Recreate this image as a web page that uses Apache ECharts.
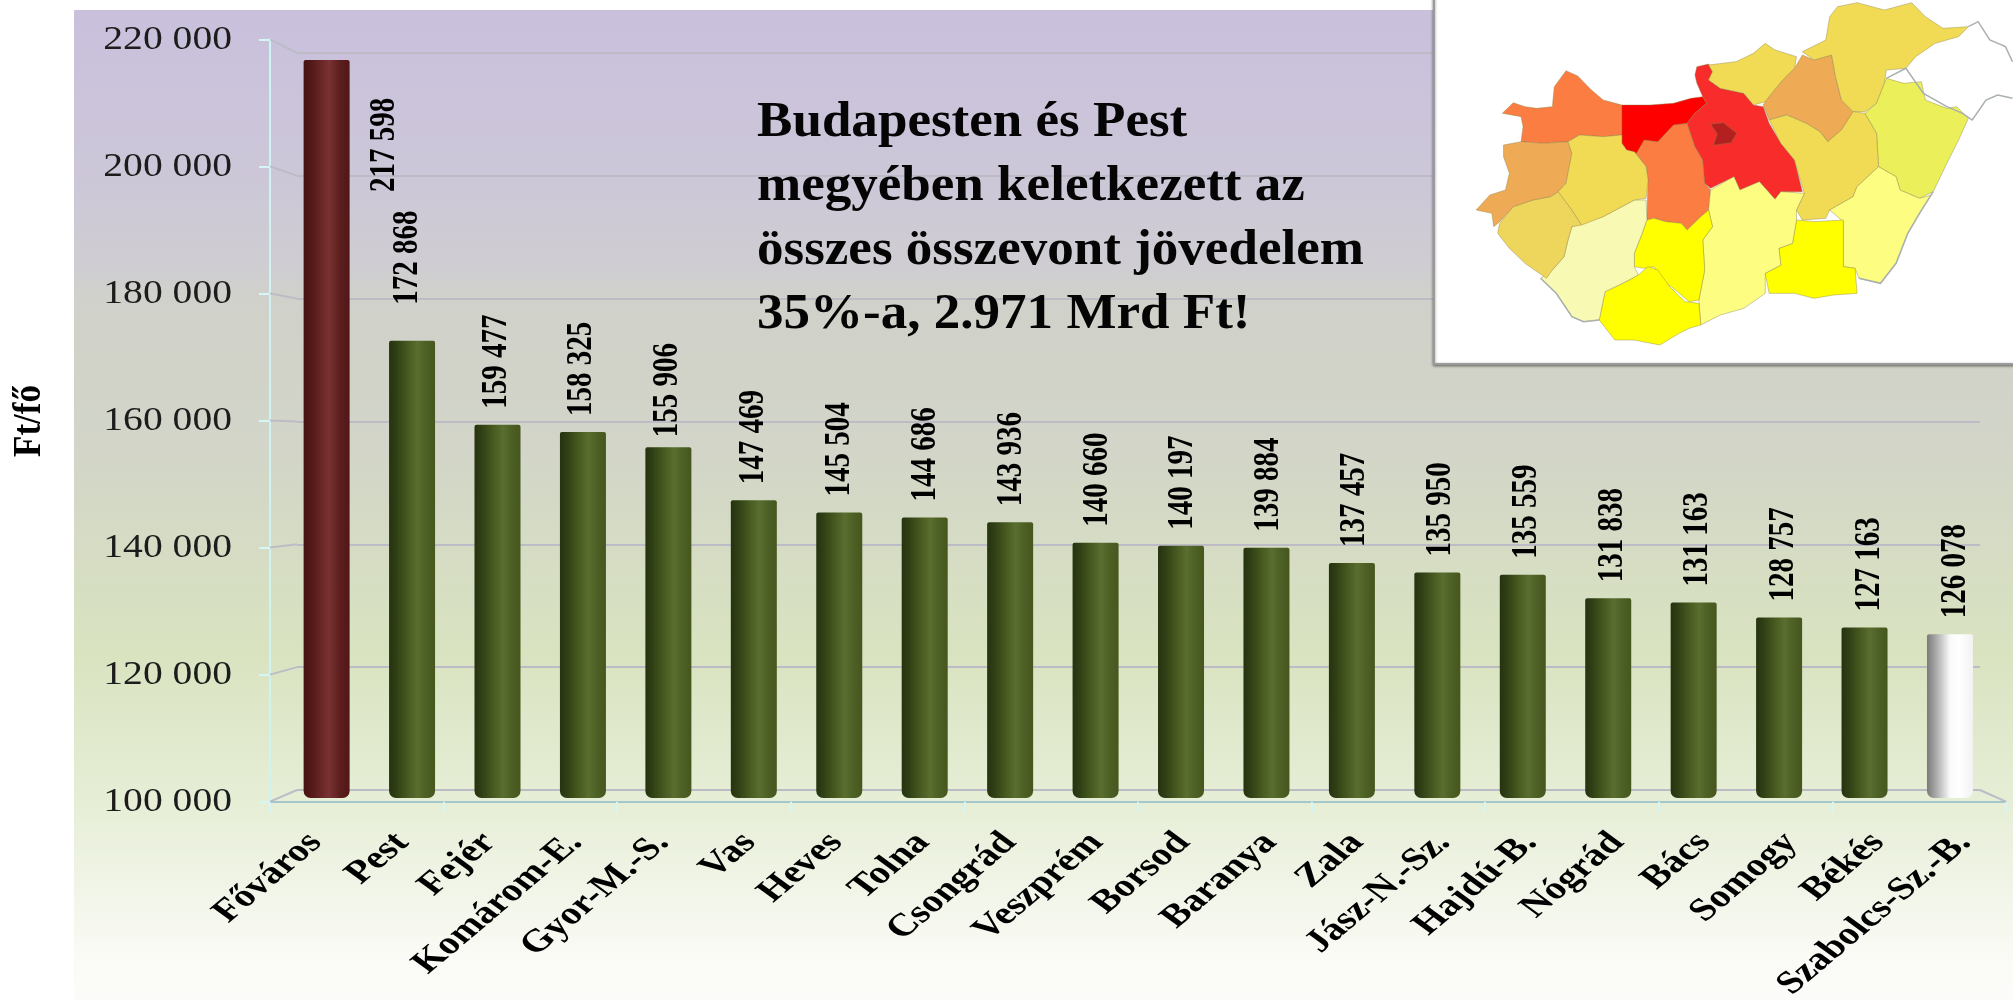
<!DOCTYPE html>
<html><head><meta charset="utf-8">
<style>html,body{margin:0;padding:0;background:#fff}#c{width:2013px;height:1000px}</style>
<script src="https://cdn.jsdelivr.net/npm/echarts@6/dist/echarts.min.js"></script>
</head><body><div id="c"></div>
<script>
const categories = ['Főváros','Pest','Fejér','Komárom-E.','Gyor-M.-S.','Vas','Heves','Tolna','Csongrád','Veszprém','Borsod','Baranya','Zala','Jász-N.-Sz.','Hajdú-B.','Nógrád','Bács','Somogy','Békés','Szabolcs-Sz.-B.'];
const values = [217598,172868,159477,158325,155906,147469,145504,144686,143936,140660,140197,139884,137457,135950,135559,131838,131163,128757,127163,126078];
const yTicks = [100000,120000,140000,160000,180000,200000,220000];
const noteLines = ['Budapesten és Pest','megyében keletkezett az','összes összevont jövedelem','35%-a, 2.971 Mrd Ft!'];
const axisTitle = 'Ft/fő';

// hand-placed value labels in the source: {index: [dx, gap above the bar]}
const labelNudges = {0:[58,-132],1:[-4,36],4:[-1,10]};

// inset map outlines, traced in 2.56x / 3x crop units
const mapBorder = [
 [[1455,80],[1480,65],[1510,120],[1550,140],[1568,185]],
 [[1245,235],[1295,205],[1340,280],[1400,320],[1440,340],[1465,360],[1500,300],[1530,285],[1568,295]],
 [[1365,575],[1330,640],[1300,700],[1270,790],[1230,850],[1175,835]],
 [[360,835],[400,880],[440,950],[470,965],[510,960]]
];
const mapRegions = [
 ['#fb7d42',[[262,340],[290,308],[320,320],[350,325],[390,320],[395,260],[425,212],[455,228],[490,270],[520,300],[568,315],[568,405],[520,410],[460,405],[430,425],[370,430],[310,425],[315,380],[310,350]]],
 ['#fb7d42',[[700,375],[735,370],[755,440],[775,480],[780,550],[795,570],[790,630],[770,650],[735,690],[720,670],[680,665],[650,655],[632,660],[635,540],[630,500],[600,455],[625,420],[660,425]]],
 ['#fe0000',[[568,315],[640,315],[700,310],[745,295],[775,290],[785,310],[755,340],[735,370],[700,375],[660,425],[625,420],[605,460],[580,450],[568,430]]],
 ['#f72c2b',[[760,200],[790,192],[800,215],[790,240],[820,265],[880,280],[905,315],[930,320],[945,370],[975,430],[1010,480],[1030,575],[975,575],[960,598],[920,545],[870,570],[855,530],[795,565],[780,550],[775,480],[755,440],[735,370],[755,340],[785,310],[775,290],[760,250],[755,225]]],
 ['#b32020',[[795,372],[828,368],[862,400],[848,428],[802,436],[812,402]]],
 ['#f1db55',[[790,195],[860,185],[905,160],[935,130],[960,150],[1015,170],[1010,205],[980,240],[935,305],[905,315],[880,280],[820,265],[790,240],[800,215]]],
 ['#eeaa55',[[1030,165],[1060,180],[1105,165],[1115,230],[1130,300],[1160,335],[1130,390],[1095,425],[1075,395],[1040,370],[990,345],[945,360],[930,315],[935,305],[980,240],[1010,205]]],
 ['#f1db55',[[1030,155],[1090,120],[1100,50],[1120,20],[1170,8],[1240,30],[1310,8],[1345,50],[1390,85],[1455,80],[1430,110],[1370,130],[1320,170],[1295,205],[1245,210],[1240,250],[1220,310],[1190,335],[1160,335],[1130,300],[1115,230],[1105,165],[1060,180]]],
 ['#ebef5a',[[1245,235],[1290,250],[1335,245],[1345,300],[1400,325],[1425,320],[1455,355],[1430,420],[1400,490],[1365,575],[1330,595],[1280,570],[1270,530],[1225,500],[1220,400],[1190,340],[1220,310]]],
 ['#f1db55',[[945,360],[990,345],[1040,370],[1075,395],[1095,425],[1130,390],[1160,335],[1190,340],[1220,400],[1225,500],[1170,560],[1160,590],[1100,630],[1090,655],[1030,660],[1015,630],[1035,580],[1010,480],[975,430]]],
 ['#fdfd82',[[1225,500],[1270,530],[1280,570],[1330,595],[1360,585],[1330,640],[1300,700],[1270,790],[1230,850],[1175,835],[1165,805],[1135,800],[1135,665],[1100,630],[1160,590],[1170,560]]],
 ['#ffff00',[[1015,660],[1060,665],[1135,660],[1135,800],[1165,805],[1170,880],[1110,885],[1060,895],[1010,880],[945,880],[935,820],[975,795],[970,745],[1005,730]]],
 ['#fdfd82',[[795,570],[855,530],[870,570],[920,545],[960,598],[975,575],[1035,580],[1015,630],[1015,660],[1005,730],[970,745],[975,795],[935,820],[935,880],[880,925],[820,945],[770,975],[765,900],[780,810],[775,720],[800,680],[790,630]]],
 ['#ffff00',[[632,660],[650,655],[680,665],[720,670],[735,690],[770,650],[790,630],[800,680],[775,720],[780,810],[765,900],[740,905],[700,865],[670,840],[650,800],[625,805],[600,800],[600,760],[620,700]]],
 ['#ffff00',[[525,875],[570,850],[610,825],[635,800],[660,810],[690,860],[730,905],[765,910],[770,975],[740,985],[715,1000],[665,1035],[600,1020],[550,1020],[530,990],[510,960]]],
 ['#f8fab4',[[440,680],[520,650],[600,600],[630,600],[632,660],[620,700],[600,760],[600,800],[610,825],[570,850],[525,875],[510,960],[470,965],[440,950],[400,880],[360,835],[390,810],[420,770],[430,720]]],
 ['#eed55c',[[255,670],[290,620],[340,600],[385,590],[405,575],[440,630],[465,675],[440,680],[430,720],[420,770],[390,810],[375,835],[320,790],[280,745],[250,700]]],
 ['#eeaa55',[[195,630],[230,585],[270,570],[280,520],[265,470],[265,435],[310,425],[370,430],[430,425],[440,460],[425,550],[405,575],[385,590],[340,600],[290,620],[255,665],[240,680],[235,640]]],
 ['#f1db55',[[430,425],[460,405],[520,410],[568,405],[568,430],[580,450],[600,455],[630,500],[635,540],[630,595],[600,600],[520,650],[465,675],[440,630],[405,575],[425,550],[440,460]]]
];

const SERIF = '"Liberation Serif","Times New Roman",serif';
const fmt = v => String(v).replace(/\B(?=(\d{3})+$)/g,' ');
const grad = (stops) => ({type:'linear',x:0,y:0,x2:1,y2:0,colorStops:stops.map(s=>({offset:s[0],color:s[1]}))});
const greenFill = grad([[0,'#25330f'],[.15,'#2f3f15'],[.4,'#47591f'],[.62,'#5a6e30'],[.8,'#4d6025'],[1,'#46571e']]);
const redFill   = grad([[0,'#471313'],[.2,'#561a1a'],[.55,'#7a3232'],[.8,'#5c1d1d'],[1,'#521717']]);
const whiteFill = grad([[0,'#7a7a7a'],[.2,'#aaaaaa'],[.5,'#fafafa'],[.7,'#ffffff'],[1,'#f2f2f2']]);

const chart = echarts.init(document.getElementById('c'),null,{renderer:'canvas'});
const mapPt = p => [1400+p[0]/2.56, p[1]/3];

const stretched = (x,y,sx,text,rot,size,weight,align,fill) => ({
  type:'group', x, y, scaleX:sx,
  children:[{type:'text', rotation:rot, style:{text, fontFamily:SERIF, fontSize:size, fontWeight:weight, fill:fill||'#000',
    align, textAlign:align, verticalAlign:'middle', textVerticalAlign:'middle'}}]
});

const graphics = [
  {type:'rect', z:-5, shape:{x:74,y:10,width:1939,height:990},
   style:{fill:{type:'linear',x:0,y:0,x2:0,y2:1,colorStops:[
     {offset:0,color:'#c9c0dc'},{offset:.15,color:'#ccc6d9'},{offset:.26,color:'#cfcdd2'},{offset:.29,color:'#d0d1ca'},{offset:.44,color:'#d2d5c8'},{offset:.65,color:'#d9e3c0'},
     {offset:.8,color:'#e6eed6'},{offset:.88,color:'#f0f4e6'},{offset:.96,color:'#fafbf6'},{offset:1,color:'#fcfcfa'}]}}},
  {type:'rect', z:50, shape:{x:1434,y:-6,width:600,height:370},
   style:{fill:'#ffffff',stroke:'#9a9a9a',lineWidth:2,shadowBlur:3,shadowColor:'rgba(0,0,0,.45)',shadowOffsetY:1}},
  ...mapRegions.map(r=>({type:'polygon',z:51,shape:{points:r[1].map(mapPt)},style:{fill:r[0],stroke:'rgba(140,130,70,.6)',lineWidth:.7}})),
  ...mapBorder.map(l=>({type:'polyline',z:51,shape:{points:l.map(mapPt)},style:{fill:'none',stroke:'#a9b0ae',lineWidth:1.5}})),
  ...noteLines.map((t,i)=>({type:'text',z:40,x:757,y:123+64*i,scaleX:1.04,
     style:{text:t,fontFamily:SERIF,fontSize:51,fontWeight:'bold',fill:'#050505',align:'left',verticalAlign:'middle'}})),
  {type:'group',z:40,x:30,y:421,scaleX:1.15,children:[{type:'text',z:40,rotation:Math.PI/2,
     style:{text:axisTitle,fontFamily:SERIF,fontSize:35,fontWeight:'bold',fill:'#000',align:'center',verticalAlign:'middle'}}]}
];

const option = {
  animation:false,
  backgroundColor:'#ffffff',
  graphic:graphics,
  grid:[
    {left:283.9,top:45,width:1708.8,height:753},
    {left:270,top:39.3,width:1736,height:762.4},
    {left:297,top:52.8,width:1683,height:737.2}
  ],
  xAxis:[
    {gridIndex:0,type:'category',data:categories,show:false},
    {gridIndex:1,type:'category',data:categories,boundaryGap:true,
      axisLine:{lineStyle:{color:'#a5c6cc',width:2}},
      axisTick:{show:true,alignWithLabel:false,length:11,lineStyle:{color:'#d4f6f6',width:2}},
      axisLabel:{show:false},splitLine:{show:false}},
    {gridIndex:2,type:'category',data:categories,show:false}
  ],
  yAxis:[
    {gridIndex:0,type:'value',min:100000,max:220000,interval:20000,show:false},
    {gridIndex:1,type:'value',min:100000,max:220000,interval:20000,
      axisLine:{show:true,lineStyle:{color:'#cdf3f3',width:2}},
      axisTick:{show:true,length:11,lineStyle:{color:'#d4f6f6',width:2}},
      axisLabel:{show:false},splitLine:{show:false}},
    {gridIndex:2,type:'value',min:100000,max:220000,interval:20000,
      axisLine:{show:false},axisTick:{show:false},axisLabel:{show:false},
      splitLine:{show:true,lineStyle:{color:'#bdbcc6',width:2}}}
  ],
  series:[
    {type:'custom',name:'wall connectors',xAxisIndex:1,yAxisIndex:1,silent:true,z:1,clip:false,
      data:yTicks.map(v=>[0,v]),
      renderItem(params,api){
        const cs=params.coordSys, y=api.coord([0,api.value(1)])[1];
        const by=chart.convertToPixel({yAxisIndex:2},api.value(1));
        const bl=297, br=1980;
        const st={stroke:'#bdbcc6',lineWidth:2,fill:'none'};
        const kids=[{type:'line',shape:{x1:cs.x,y1:y,x2:bl,y2:by},style:st}];
        if(api.value(1)===100000) kids.push({type:'line',shape:{x1:cs.x+cs.width,y1:y,x2:br,y2:by},style:st});
        return {type:'group',children:kids};
      }},
    {type:'bar',name:'Ft/fő',xAxisIndex:0,yAxisIndex:0,barWidth:46,z:3,silent:true,
      data:values.map((v,i)=>({value:v,itemStyle:{
        color:i===0?redFill:(i===values.length-1?whiteFill:greenFill),
        borderRadius:[2,2,7,7]}}))},
    {type:'custom',name:'value labels',xAxisIndex:0,yAxisIndex:0,silent:true,z:5,clip:false,
      data:values.map((v,i)=>[i,v]),
      renderItem(params,api){
        const i=api.value(0), p=api.coord([i,api.value(1)]);
        const n=labelNudges[i]||[(i-10)*0.4+2,16];
        return stretched(p[0]+n[0],p[1]-n[1],1.25,fmt(values[i]),Math.PI/2,29,'bold','left');
      }},
    {type:'custom',name:'y tick labels',xAxisIndex:1,yAxisIndex:1,silent:true,z:5,clip:false,
      data:yTicks.map(v=>[0,v]),
      renderItem(params,api){
        const y=api.coord([0,api.value(1)])[1];
        return stretched(params.coordSys.x-38,y+1,1.2,fmt(api.value(1)),0,33,'normal','right','#1c1c1c');
      }},
    {type:'custom',name:'category labels',xAxisIndex:1,yAxisIndex:1,silent:true,z:5,clip:false,
      data:categories.map((c,i)=>[i,100000]),
      renderItem(params,api){
        const i=api.value(0), p=api.coord([i,100000]);
        return stretched(p[0]+2,p[1]+36,1.27,categories[i],47*Math.PI/180,32,'bold','right');
      }}
  ]
};
chart.setOption(option);
</script></body></html>
